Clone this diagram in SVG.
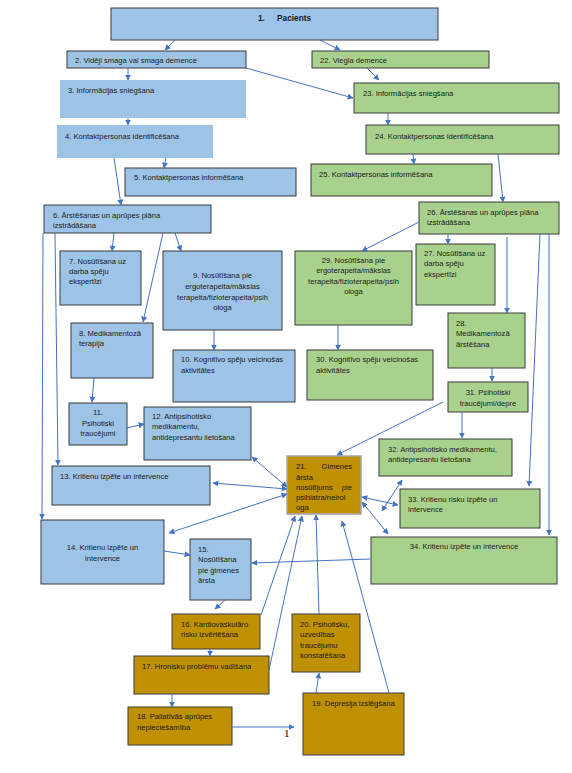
<svg xmlns="http://www.w3.org/2000/svg" width="572" height="773" viewBox="0 0 572 773">
<defs>
<marker id="ah" viewBox="0 0 10 10" refX="9" refY="5" markerWidth="6" markerHeight="6" markerUnits="userSpaceOnUse" orient="auto-start-reverse">
<path d="M0,0 L10,5 L0,10 z" fill="#4472C4"/>
</marker>
<style>
.b{fill:#9DC3E6;stroke:#3a3a3a;stroke-width:1}
.bn{fill:#9DC3E6;stroke:none}
.g{fill:#A9D18E;stroke:#3a3a3a;stroke-width:1}
.o{fill:#BF9000;stroke:#3a3a3a;stroke-width:1}
.o2{fill:#BF9000;stroke:#A6A6A6;stroke-width:1.5}
text{font-family:"Liberation Sans",Arial,sans-serif;font-size:7.6px;fill:#1a1a1a}
.c{text-anchor:middle}
.e{text-anchor:end}
.bold{font-weight:bold;font-size:8.3px}
#connectors line,#connectors path{stroke:#4472C4;stroke-width:1;fill:none}
.a{marker-end:url(#ah)}
.d{marker-start:url(#ah);marker-end:url(#ah)}
</style>
</defs>
<rect width="572" height="773" fill="#ffffff"/>

<g id="n1"><rect class="b" x="111" y="8" width="327" height="32"/><text class="bold" x="258" y="21">1.</text><text class="bold" x="277" y="21">Pacients</text></g>
<g id="n2"><rect class="b" x="67" y="51" width="179" height="17"/><text x="75" y="63">2. Vidēji smaga vai smaga demence</text></g>
<g id="n22"><rect class="g" x="312" y="51" width="177" height="17"/><text x="320" y="63">22. Viegla demence</text></g>
<g id="n3"><rect class="bn" x="60" y="80" width="186" height="38"/><text x="68" y="93">3. Informācijas sniegšana</text></g>
<g id="n23"><rect class="g" x="354" y="83" width="205" height="30"/><text x="363" y="96">23. Informācijas sniegšana</text></g>
<g id="n4"><rect class="bn" x="57" y="125" width="156" height="33"/><text x="65" y="138.5">4. Kontaktpersonas identificēšana</text></g>
<g id="n24"><rect class="g" x="366" y="125" width="193" height="29"/><text x="375" y="138.5">24. Kontaktpersonas identificēšana</text></g>
<g id="n5"><rect class="b" x="125" y="168" width="171" height="28"/><text x="134" y="179.5">5. Kontaktpersonas informēšana</text></g>
<g id="n25"><rect class="g" x="311" y="164" width="181" height="32"/><text x="319" y="176.5">25. Kontaktpersonas informēšana</text></g>
<g id="n6"><rect class="b" x="44" y="205" width="167" height="28"/><text x="53" y="217.5">6. Ārstēšanas un aprūpes plāna</text><text x="53" y="227.5">izstrādāšana</text></g>
<g id="n26"><rect class="g" x="419" y="202" width="140" height="32"/><text x="427" y="214.5">26. Ārstēšanas un aprūpes plāna</text><text x="427" y="224.5">izstrādāšana</text></g>
<g id="n7"><rect class="b" x="60" y="251" width="81" height="54"/><text x="69" y="263.5">7. Nosūtīšana uz</text><text x="69" y="273.5">darba spēju</text><text x="69" y="283.5">ekspertīzi</text></g>
<g id="n27"><rect class="g" x="416" y="244" width="79" height="61"/><text x="424" y="255.5">27. Nosūtīšana uz</text><text x="424" y="266">darba spēju</text><text x="424" y="276.5">ekspertīzi</text></g>
<g id="n9"><rect class="b" x="163" y="251" width="119" height="79"/><text class="c" x="222.5" y="277.5">9. Nosūtīšana pie</text><text class="c" x="222.5" y="289">ergoterapeita/mākslas</text><text class="c" x="222.5" y="299.5">terapeita/fizioterapeita/psih</text><text class="c" x="222.5" y="309.5">ologa</text></g>
<g id="n29"><rect class="g" x="295" y="251" width="117" height="74"/><text class="c" x="353.5" y="263">29. Nosūtīšana pie</text><text class="c" x="353.5" y="273">ergoterapeita/mākslas</text><text class="c" x="353.5" y="283.5">terapeita/fizioterapeita/psih</text><text class="c" x="353.5" y="293.5">ologa</text></g>
<g id="n8"><rect class="b" x="71" y="323" width="82" height="55"/><text x="79" y="336">8. Medikamentozā</text><text x="79" y="346">terapija</text></g>
<g id="n28"><rect class="g" x="448" y="313" width="77" height="55"/><text x="456" y="326">28.</text><text x="456" y="336">Medikamentozā</text><text x="456" y="347">ārstēšana</text></g>
<g id="n10"><rect class="b" x="173" y="350" width="122" height="52"/><text x="181" y="362">10. Kognitīvo spēju veicinošas</text><text x="181" y="372.5">aktivitātes</text></g>
<g id="n30"><rect class="g" x="307" y="350" width="126" height="50"/><text x="316" y="362">30. Kognitīvo spēju veicinošas</text><text x="316" y="372.5">aktivitātes</text></g>
<g id="n31"><rect class="g" x="448" y="382" width="80" height="30"/><text class="c" x="488" y="395">31. Psihotiski</text><text class="c" x="488" y="405.5">traucējumi/depre</text></g>
<g id="n11"><rect class="b" x="69" y="403" width="58" height="42"/><text class="c" x="98" y="415">11.</text><text class="c" x="98" y="426">Psihotiski</text><text class="c" x="98" y="436">traucējumi</text></g>
<g id="n12"><rect class="b" x="144" y="407" width="107" height="53"/><text x="152" y="418.5">12. Antipsihotisko</text><text x="152" y="429">medikamentu,</text><text x="152" y="440">antidepresantu lietošana</text></g>
<g id="n32"><rect class="g" x="379" y="439" width="133" height="37"/><text x="388" y="452">32. Antipsihotisko medikamentu,</text><text x="388" y="462">antidepresantu lietošana</text></g>
<g id="n21"><rect class="o2" x="287" y="456" width="74" height="58"/><text x="296" y="469">21.</text><text class="e" x="352" y="469">Ģimenes</text><text x="296" y="479.5">ārsta</text><text x="296" y="490">nosūtījums</text><text class="e" x="352" y="490">pie</text><text x="296" y="500">psihiatra/neirol</text><text x="296" y="510">oga</text></g>
<g id="n13"><rect class="b" x="52" y="466" width="158" height="39"/><text x="60" y="479">13. Kritienu izpēte un intervence</text></g>
<g id="n33"><rect class="g" x="400" y="489" width="140" height="39"/><text x="408" y="501.5">33. Kritienu risku izpēte un</text><text x="408" y="511.5">intervence</text></g>
<g id="n14"><rect class="b" x="41" y="520" width="123" height="64"/><text class="c" x="102.5" y="550">14. Kritienu izpēte un</text><text class="c" x="102.5" y="561">intervence</text></g>
<g id="n34"><rect class="g" x="371" y="537" width="186" height="47"/><text class="c" x="464" y="549">34. Kritienu izpēte un intervence</text></g>
<g id="n15"><rect class="b" x="190" y="539" width="61" height="61"/><text x="198" y="551.5">15.</text><text x="198" y="562">Nosūtīšana</text><text x="198" y="572.5">pie ģimenes</text><text x="198" y="583">ārsta</text></g>
<g id="n16"><rect class="o" x="172" y="614" width="88" height="35"/><text x="181" y="627">16. Kardiovaskulāro</text><text x="181" y="637">risku izvērtēšana</text></g>
<g id="n20"><rect class="o" x="292" y="614" width="68" height="58"/><text x="300" y="627">20. Psihotisku,</text><text x="300" y="637">uzvedības</text><text x="300" y="647.5">traucējumu</text><text x="300" y="657.5">konstatēšana</text></g>
<g id="n17"><rect class="o" x="134" y="656" width="135" height="38"/><text x="142" y="669">17. Hronisku problēmu vadīšana</text></g>
<g id="n18"><rect class="o" x="128" y="707" width="104" height="38"/><text x="137" y="719">18. Paliatīvās aprūpes</text><text x="137" y="729.5">nepieciešamība</text></g>
<g id="n19"><rect class="o" x="303" y="693" width="101" height="62"/><text x="312" y="706">19. Depresija izslēgšana</text></g>

<g id="connectors">
<line class="a" x1="175" y1="40" x2="165" y2="50"/>
<line class="a" x1="320" y1="40" x2="340" y2="50"/>
<line class="a" x1="128" y1="68" x2="128" y2="80"/>
<line class="a" x1="246" y1="68" x2="353" y2="98"/>
<line class="a" x1="367" y1="68" x2="379" y2="80"/>
<line class="a" x1="128" y1="118" x2="128" y2="125"/>
<line class="a" x1="388" y1="113" x2="388" y2="125"/>
<line class="a" x1="166" y1="158" x2="164" y2="168"/>
<line class="a" x1="413" y1="154" x2="414" y2="164"/>
<line class="a" x1="114" y1="158" x2="121" y2="205"/>
<line class="a" x1="498" y1="154" x2="503" y2="202"/>
<line class="a" x1="114" y1="233" x2="112" y2="251"/>
<line class="a" x1="175" y1="233" x2="181" y2="251"/>
<line class="a" x1="163" y1="233" x2="143" y2="322"/>
<line class="a" x1="55" y1="233" x2="58" y2="465"/>
<line class="a" x1="43" y1="233" x2="42" y2="519"/>
<line class="a" x1="214" y1="330" x2="214" y2="350"/>
<line class="a" x1="94" y1="378" x2="92" y2="402"/>
<line class="a" x1="127" y1="428" x2="144" y2="424"/>
<line class="a" x1="419" y1="222" x2="362" y2="251"/>
<line class="a" x1="448" y1="234" x2="448" y2="244"/>
<line class="a" x1="507" y1="237" x2="507" y2="313"/>
<line class="a" x1="540" y1="234" x2="529" y2="486"/>
<line class="a" x1="549" y1="234" x2="549" y2="535"/>
<line class="a" x1="338" y1="325" x2="338" y2="350"/>
<line class="a" x1="492" y1="368" x2="492" y2="381"/>
<line class="a" x1="443" y1="402" x2="337" y2="455"/>
<line class="a" x1="462" y1="412" x2="462" y2="438"/>
<line class="d" x1="252" y1="457" x2="287" y2="487"/>
<line class="d" x1="213" y1="483" x2="287" y2="489"/>
<line class="d" x1="169" y1="533" x2="287" y2="494"/>
<line class="a" x1="164" y1="551" x2="190" y2="555"/>
<line class="a" x1="371" y1="559" x2="252" y2="563"/>
<line class="a" x1="225" y1="600" x2="215" y2="609"/>
<line class="a" x1="261" y1="615" x2="295" y2="516"/>
<line class="a" x1="269" y1="670" x2="302" y2="516"/>
<line class="a" x1="319" y1="614" x2="316" y2="515"/>
<line class="a" x1="389" y1="693" x2="342" y2="521"/>
<line class="a" x1="316" y1="693" x2="319" y2="673"/>
<line class="a" x1="210" y1="649" x2="210" y2="656"/>
<line class="a" x1="172" y1="694" x2="172" y2="707"/>
<line class="a" x1="232" y1="727" x2="294" y2="727"/>
<line class="d" x1="362" y1="497" x2="398" y2="505"/>
<line class="d" x1="362" y1="502" x2="388" y2="534"/>
<line class="d" x1="382" y1="511" x2="402" y2="480"/>
</g>
<text x="284" y="737" style="font-family:'Liberation Serif',serif;font-size:11px;fill:#000">1</text>
</svg>
